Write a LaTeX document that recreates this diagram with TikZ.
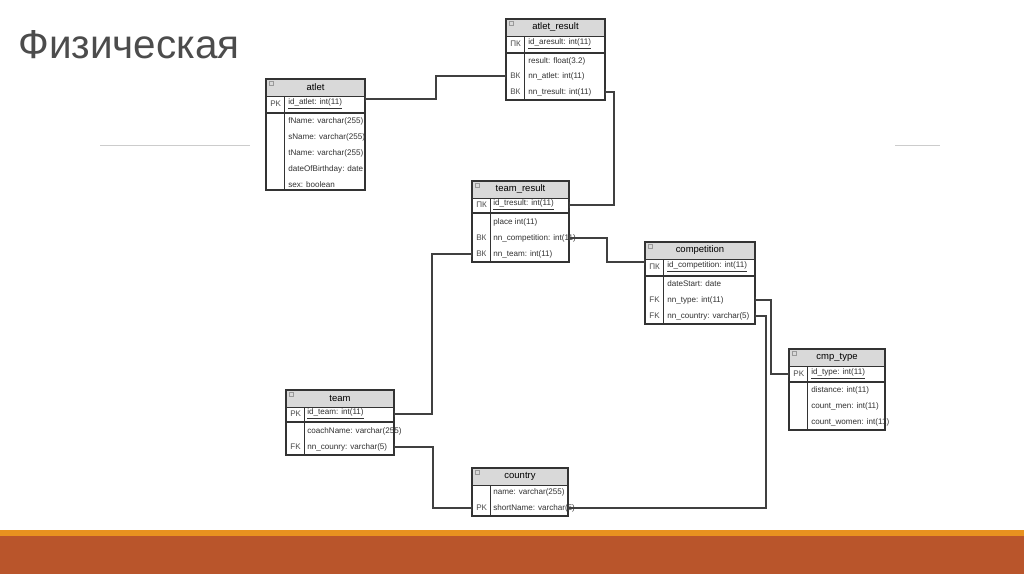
\documentclass[tikz,border=0pt]{standalone}
\usepackage{fontspec}
\setmainfont{Liberation Sans}
\usetikzlibrary{arrows.meta}
\colorlet{hdrgray}{black!15}
\definecolor{barorange}{HTML}{E8911F}
\definecolor{barbrown}{HTML}{B9552B}
\tikzset{
  row/.style={anchor=west,inner sep=0pt,font=\fontsize{4.6}{5}\selectfont,text=black!80},
  key/.style={row,text=black!70},
  hdr/.style={inner sep=0pt,font=\fontsize{5.4}{6}\selectfont},
  link/.style={draw=black!75,line width=0.7pt,{Bar[width=3pt,length=0.6pt]}-{Bar[width=3pt,length=0.6pt]}},
}
% table frame: name, left, right, top, bottom, title
\newcommand\erbox[6]{%
  \fill[hdrgray] (#2,#4) rectangle (#3,#4+17);
  \draw[black!80,line width=0.6pt] (#2,#4) rectangle (#3,#5);
  \draw[black!80,line width=0.5pt] (#2,#4+17) -- (#3,#4+17);
  \draw[black!80,line width=0.5pt] (#2+18,#4+17) -- (#2+18,#5);
  \draw[black!40,line width=0.3pt] (#2+3,#4+2) rectangle (#2+7,#4+6);
  \node[hdr] (#1) at ({(#2+#3)/2},#4+8.5) {#6};
}
\newcommand\pkline[3]{\draw[black!80,line width=0.8pt] (#1,#3) -- (#2,#3);}
\begin{document}
\begin{tikzpicture}[x=0.02cm,y=-0.02cm]
  \useasboundingbox (0,0) rectangle (1024,574);
  \fill[white] (0,0) rectangle (1024,574);
  \node[anchor=west,inner sep=0pt,text=black!70,font=\fontsize{23}{26}\selectfont] (title) at (18,45) {Физическая};
  \draw[black!20,line width=0.5pt] (100,145) -- (250,145);
  \draw[black!20,line width=0.5pt] (895,145) -- (940,145);
  \fill[barorange] (0,530) rectangle (1024,536);
  \fill[barbrown] (0,536) rectangle (1024,574);

  % atlet
  \erbox{atlet}{266}{365}{79}{190}{atlet}
  \pkline{266}{365}{113}
  \node[key] (atlet-k1) at (270,104) {PK};
  \node[row] (atlet-pk) at (288,104) {\underline{id\_atlet: int(11)}};
  \foreach \t [count=\i] in {fName: varchar(255),sName: varchar(255),tName: varchar(255),dateOfBirthday: date,sex: boolean}
    \node[row] (atlet-r\i) at (288,105+16*\i) {\t};
  \coordinate (atlet-e) at (365,99);

  % atlet_result
  \erbox{ares}{506}{605}{19}{100}{atlet\_result}
  \pkline{506}{605}{53}
  \node[key] (ares-k1) at (510,44) {ПК};
  \node[row] (ares-pk) at (528,44) {\underline{id\_aresult: int(11)}};
  \node[row] (ares-r1) at (528,61) {result: float(3.2)};
  \node[key] (ares-k2) at (510,76) {ВК};
  \node[row] (ares-r2) at (528,76) {nn\_atlet: int(11)};
  \node[key] (ares-k3) at (510,92) {ВК};
  \node[row] (ares-r3) at (528,92) {nn\_tresult: int(11)};
  \coordinate (ares-w) at (506,76);
  \coordinate (ares-e) at (605,92);

  % team_result
  \erbox{tres}{472}{569}{181}{262}{team\_result}
  \pkline{472}{569}{213}
  \node[key] (tres-k1) at (476,205) {ПК};
  \node[row] (tres-pk) at (493,205) {\underline{id\_tresult: int(11)}};
  \node[row] (tres-r1) at (493,222) {place int(11)};
  \node[key] (tres-k2) at (476,238) {ВК};
  \node[row] (tres-r2) at (493,238) {nn\_competition: int(11)};
  \node[key] (tres-k3) at (476,254) {ВК};
  \node[row] (tres-r3) at (493,254) {nn\_team: int(11)};
  \coordinate (tres-pe) at (569,205);
  \coordinate (tres-ce) at (569,238);
  \coordinate (tres-tw) at (472,254);

  % competition
  \erbox{comp}{645}{755}{242}{324}{competition}
  \pkline{645}{755}{276}
  \node[key] (comp-k1) at (649,267) {ПК};
  \node[row] (comp-pk) at (667,267) {\underline{id\_competition: int(11)}};
  \node[row] (comp-r1) at (667,284) {dateStart: date};
  \node[key] (comp-k2) at (649,300) {FK};
  \node[row] (comp-r2) at (667,300) {nn\_type: int(11)};
  \node[key] (comp-k3) at (649,316) {FK};
  \node[row] (comp-r3) at (667,316) {nn\_country: varchar(5)};
  \coordinate (comp-w) at (645,262);
  \coordinate (comp-te) at (755,300);
  \coordinate (comp-ce) at (755,316);

  % cmp_type
  \erbox{ctype}{789}{885}{349}{430}{cmp\_type}
  \pkline{789}{885}{382}
  \node[key] (ctype-k1) at (793,374) {PK};
  \node[row] (ctype-pk) at (811,374) {\underline{id\_type: int(11)}};
  \foreach \t [count=\i] in {distance: int(11),count\_men: int(11),count\_women: int(11)}
    \node[row] (ctype-r\i) at (811,374+16*\i) {\t};
  \coordinate (ctype-w) at (789,374);

  % team
  \erbox{team}{286}{394}{390}{455}{team}
  \pkline{286}{394}{422}
  \node[key] (team-k1) at (290,414) {PK};
  \node[row] (team-pk) at (307,414) {\underline{id\_team: int(11)}};
  \node[row] (team-r1) at (307,431) {coachName: varchar(255)};
  \node[key] (team-k2) at (290,447) {FK};
  \node[row] (team-r2) at (307,447) {nn\_counry: varchar(5)};
  \coordinate (team-pe) at (394,414);
  \coordinate (team-ce) at (394,447);

  % country
  \erbox{cntry}{472}{568}{468}{516}{country}
  \node[row] (cntry-r1) at (493,492) {name: varchar(255)};
  \node[key] (cntry-k1) at (476,508) {PK};
  \node[row] (cntry-pk) at (493,508) {shortName: varchar(5)};
  \coordinate (cntry-w) at (472,508);
  \coordinate (cntry-e) at (568,508);

  % links
  \draw[link] (atlet-e) -- (436,99) -- (436,76) -- (ares-w);
  \draw[link] (ares-e) -- (614,92) -- (614,205) -- (tres-pe);
  \draw[link] (tres-ce) -- (607,238) -- (607,262) -- (comp-w);
  \draw[link] (tres-tw) -- (432,254) -- (432,414) -- (team-pe);
  \draw[link] (comp-te) -- (771,300) -- (771,374) -- (ctype-w);
  \draw[link] (comp-ce) -- (766,316) -- (766,508) -- (cntry-e);
  \draw[link] (team-ce) -- (433,447) -- (433,508) -- (cntry-w);
\end{tikzpicture}
\end{document}
